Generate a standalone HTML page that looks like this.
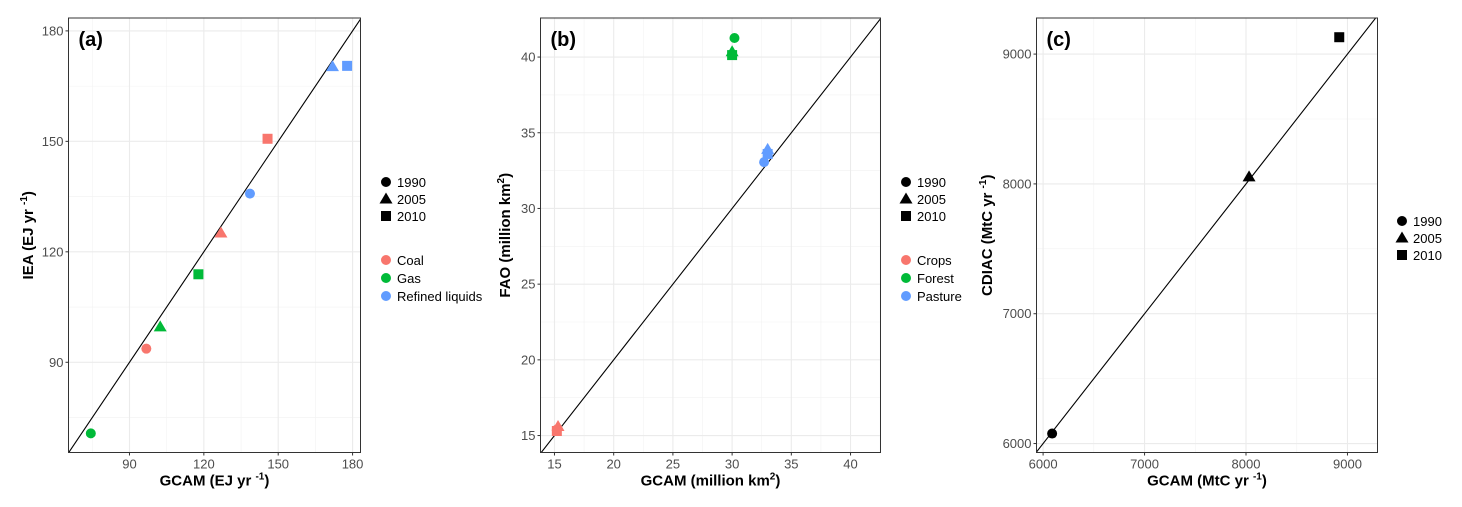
<!DOCTYPE html>
<html><head><meta charset="utf-8"><style>
html,body{margin:0;padding:0;background:#fff}
svg{display:block;font-family:"Liberation Sans",Arial,sans-serif}
</style></head><body>
<svg id="fig" width="1462" height="507" viewBox="0 0 1462 507" xmlns="http://www.w3.org/2000/svg"></svg>
<script>
// ---- data ----
const yearsLegend = ['1990','2005','2010'];
const shapes = ['circle','triangle','square'];
const aCategories = ['Coal','Gas','Refined liquids'];
const bCategories = ['Crops','Forest','Pasture'];
const catColors = ['#F8766D','#00BA38','#619CFF'];
// panel a: GCAM (x) and IEA (y), per category, years 1990,2005,2010
const aGcam = [[96.8,126.9,145.7],[74.4,102.4,117.8],[138.6,171.9,177.8]];
const aIea  = [[93.7,125.1,150.7],[70.7,99.6,113.9],[135.8,170.3,170.5]];
const aTicks = [90,120,150,180];
// panel b
const bGcam = [[15.2,15.3,15.2],[30.2,30.0,30.0],[32.7,33.0,33.0]];
const bFao  = [[15.4,15.6,15.3],[41.26,40.35,40.13],[33.06,33.9,33.6]];
const bTicksX = [15,20,25,30,35,40];
const bTicksY = [15,20,25,30,35,40];
// panel c
const cGcam = [6089,8030,8919];
const cCdiac = [6077,8054,9130];
const cTicks = [6000,7000,8000,9000];

const NS='http://www.w3.org/2000/svg';
const fig=document.getElementById('fig');
function mk(tag,attrs,parent){const e=document.createElementNS(NS,tag);for(const k in attrs)e.setAttribute(k,attrs[k]);(parent||fig).appendChild(e);return e;}

function panel(o){
  const g=mk('g',{});
  
  
  const sx=v=>o.L+(v-o.x0)/(o.x1-o.x0)*(o.R-o.L);
  const sy=v=>o.B-(v-o.y0)/(o.y1-o.y0)*(o.B-o.T);
  const minors=(t)=>{const r=[];for(let i=0;i<t.length-1;i++)r.push((t[i]+t[i+1])/2);const s=t[1]-t[0];r.unshift(t[0]-s/2);r.push(t[t.length-1]+s/2);return r;};
  minors(o.tx).forEach(v=>{const x=sx(v);if(x>o.L&&x<o.R)mk('line',{x1:x,x2:x,y1:o.T,y2:o.B,stroke:'#f2f2f2','stroke-width':0.6},g);});
  minors(o.ty).forEach(v=>{const y=sy(v);if(y>o.T&&y<o.B)mk('line',{x1:o.L,x2:o.R,y1:y,y2:y,stroke:'#f2f2f2','stroke-width':0.6},g);});
  o.tx.forEach(v=>{const x=sx(v);
    const gl=mk('line',{x1:x,x2:x,y1:o.T,y2:o.B,stroke:'#ebebeb','stroke-width':1.1},g);
    
    mk('line',{x1:x,x2:x,y1:o.B,y2:o.B+3,stroke:'#333','stroke-width':1},g);
    const t=mk('text',{x:x,y:o.B+16,'text-anchor':'middle','font-size':13,fill:'#4d4d4d'},g);t.textContent=v;
    });
  o.ty.forEach(v=>{const y=sy(v);
    const gl=mk('line',{x1:o.L,x2:o.R,y1:y,y2:y,stroke:'#ebebeb','stroke-width':1.1},g);
    
    mk('line',{x1:o.L-3,x2:o.L,y1:y,y2:y,stroke:'#333','stroke-width':1},g);
    const t=mk('text',{x:o.L-5,y:y+4.5,'text-anchor':'end','font-size':13,fill:'#4d4d4d'},g);t.textContent=v;
    });
  const cid='clip'+o.id;
  const cp=mk('clipPath',{id:cid},g);mk('rect',{x:o.L,y:o.T,width:o.R-o.L,height:o.B-o.T},cp);
  const lo=Math.min(o.x0,o.y0),hi=Math.max(o.x1,o.y1);
  const dl=mk('line',{x1:sx(lo),y1:sy(lo),x2:sx(hi),y2:sy(hi),stroke:'#000','stroke-width':1.1,'clip-path':`url(#${cid})`},g);
  
  o.pts.forEach(p=>{const s=drawShape(p.shape,sx(p.x),sy(p.y),p.color,g);
    });
  mk('rect',{x:o.L,y:o.T,width:o.R-o.L,height:o.B-o.T,fill:'none',stroke:'#333','stroke-width':1},g);
  const pl=mk('text',{x:o.L+10,y:o.T+28,'font-size':20,'font-weight':'bold',fill:'#000'},g);pl.textContent=o.label;
  
  const xt=mk('text',{x:(o.L+o.R)/2,y:o.B+33,'text-anchor':'middle','font-size':15,'font-weight':'bold'},g);
  xt.innerHTML=o.xt;
  const cy=(o.T+o.B)/2;
  const yt=mk('text',{x:o.ytx,y:cy,'text-anchor':'middle','font-size':15,'font-weight':'bold',transform:`rotate(-90 ${o.ytx} ${cy})`},g);
  yt.innerHTML=o.yt;
  o.leg.forEach((e,i)=>{
    const lg=mk('g',{},g);
    
    drawShape(e.shape,o.lx,e.y,e.color,lg);
    const t=mk('text',{x:o.lx+11,y:e.y+5,'font-size':13,fill:'#000'},lg);t.textContent=e.text;
  });
}
function drawShape(sh,x,y,c,g){
  if(sh==='circle')return mk('circle',{cx:x,cy:y,r:5,fill:c},g);
  if(sh==='triangle')return mk('polygon',{points:`${x},${y-6.5} ${x-6.5},${y+4.5} ${x+6.5},${y+4.5}`,fill:c},g);
  return mk('rect',{x:x-5,y:y-5,width:10,height:10,fill:c},g);
}
function buildPts(xs,ys,cats){const r=[];xs.forEach((row,ci)=>row.forEach((v,yi)=>r.push({x:v,y:ys[ci][yi],shape:shapes[yi],color:catColors[ci],label:(cats[ci]+'-'+yearsLegend[yi]).toLowerCase().replace(/ /g,'-')})));return r;}
function legendEntries(y0,y1,cats){
  const e=[];yearsLegend.forEach((t,i)=>e.push({shape:shapes[i],color:'#000',text:t,y:y0+i*17}));
  if(cats)cats.forEach((t,i)=>e.push({shape:'circle',color:catColors[i],text:t,y:y1+i*18}));return e;}
const sup=(a,b)=>`${a}<tspan dy="-6" font-size="10">${b}</tspan><tspan dy="6">)</tspan>`;

panel({id:'a',name:'panel-a',label:'(a)',L:68.5,R:360.5,T:18,B:452.5,x0:65.4,x1:183.2,y0:65.5,y1:183.5,tx:aTicks,ty:aTicks,
  pts:buildPts(aGcam,aIea,aCategories),xt:sup('GCAM (EJ yr ','-1'),yt:sup('IEA (EJ yr ','-1'),ytx:33,
  lx:386,leg:legendEntries(182,260,aCategories)});
panel({id:'b',name:'panel-b',label:'(b)',L:540.5,R:880.5,T:18,B:452.5,x0:13.82,x1:42.53,y0:13.88,y1:42.58,tx:bTicksX,ty:bTicksY,
  pts:buildPts(bGcam,bFao,bCategories),xt:sup('GCAM (million km','2'),yt:sup('FAO (million km','2'),ytx:510,
  lx:906,leg:legendEntries(182,260,bCategories)});
const cPts=cGcam.map((v,i)=>({x:v,y:cCdiac[i],shape:shapes[i],color:'#000',label:yearsLegend[i]}));
panel({id:'c',name:'panel-c',label:'(c)',L:1036.5,R:1377.5,T:18,B:452.5,x0:5935,x1:9296,y0:5931,y1:9278,tx:cTicks,ty:cTicks,
  pts:cPts,xt:sup('GCAM (MtC yr ','-1'),yt:sup('CDIAC (MtC yr ','-1'),ytx:992,
  lx:1402,leg:legendEntries(221,0,null)});
</script>
</body></html>
